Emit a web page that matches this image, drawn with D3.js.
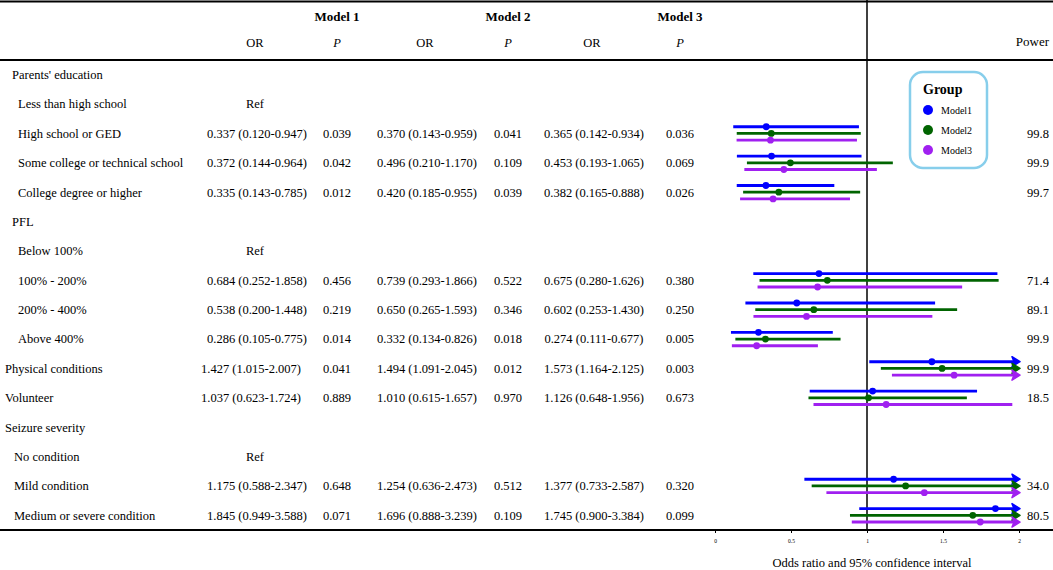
<!DOCTYPE html>
<html>
<head>
<meta charset="utf-8">
<script src="https://cdn.jsdelivr.net/npm/d3@7"></script>
<style>
  body { margin: 0; background: #fff; }
  svg { display: block; font-family: "Liberation Serif", "Times New Roman", serif; }
</style>
</head>
<body>
<div id="chart"></div>
<script>
// rows of the table
var labels = ["Parents' education", "Less than high school", "High school or GED",
  "Some college or technical school", "College degree or higher", "PFL", "Below 100%",
  "100% - 200%", "200% - 400%", "Above 400%", "Physical conditions", "Volunteer",
  "Seizure severity", "No condition", "Mild condition", "Medium or severe condition"];
// h1 = heading, s1 = sub item, h2 = heading (flush), s2 = sub item of h2
var rowType = ["h1", "s1", "s1", "s1", "s1", "h1", "s1", "s1", "s1", "s1", "h2", "h2", "h2", "s2", "s2", "s2"];
var refRows = [1, 6, 13];

var models = ["Model1", "Model2", "Model3"];
var modelTitles = ["Model 1", "Model 2", "Model 3"];
var colors = ["#0000FF", "#006400", "#A020F0"];

var m1OR = [null, null, 0.337, 0.372, 0.335, null, null, 0.684, 0.538, 0.286, 1.427, 1.037, null, null, 1.175, 1.845];
var m1Lo = [null, null, 0.120, 0.144, 0.143, null, null, 0.252, 0.200, 0.105, 1.015, 0.623, null, null, 0.588, 0.949];
var m1Hi = [null, null, 0.947, 0.964, 0.785, null, null, 1.858, 1.448, 0.775, 2.007, 1.724, null, null, 2.347, 3.588];
var m1P  = [null, null, 0.039, 0.042, 0.012, null, null, 0.456, 0.219, 0.014, 0.041, 0.889, null, null, 0.648, 0.071];

var m2OR = [null, null, 0.370, 0.496, 0.420, null, null, 0.739, 0.650, 0.332, 1.494, 1.010, null, null, 1.254, 1.696];
var m2Lo = [null, null, 0.143, 0.210, 0.185, null, null, 0.293, 0.265, 0.134, 1.091, 0.615, null, null, 0.636, 0.888];
var m2Hi = [null, null, 0.959, 1.170, 0.955, null, null, 1.866, 1.593, 0.826, 2.045, 1.657, null, null, 2.473, 3.239];
var m2P  = [null, null, 0.041, 0.109, 0.039, null, null, 0.522, 0.346, 0.018, 0.012, 0.970, null, null, 0.512, 0.109];

var m3OR = [null, null, 0.365, 0.453, 0.382, null, null, 0.675, 0.602, 0.274, 1.573, 1.126, null, null, 1.377, 1.745];
var m3Lo = [null, null, 0.142, 0.193, 0.165, null, null, 0.280, 0.253, 0.111, 1.164, 0.648, null, null, 0.733, 0.900];
var m3Hi = [null, null, 0.934, 1.065, 0.888, null, null, 1.626, 1.430, 0.677, 2.125, 1.956, null, null, 2.587, 3.384];
var m3P  = [null, null, 0.036, 0.069, 0.026, null, null, 0.380, 0.250, 0.005, 0.003, 0.673, null, null, 0.320, 0.099];

var power = [null, null, 99.8, 99.9, 99.7, null, null, 71.4, 89.1, 99.9, 99.9, 18.5, null, null, 34.0, 80.5];

var xTicks = [0, 0.5, 1, 1.5, 2];
var xTickLabels = ["0", "0.5", "1", "1.5", "2"];

// 画布
var width = 1053, height = 570;
var fs = 12.5;
var svg = d3.select("#chart").append("svg")
  .attr("width", width)
  .attr("height", height);

var modelData = [
  { or: m1OR, lo: m1Lo, hi: m1Hi, p: m1P, orX: 257, pX: 337, titleX: 337 },
  { or: m2OR, lo: m2Lo, hi: m2Hi, p: m2P, orX: 427, pX: 508, titleX: 508 },
  { or: m3OR, lo: m3Lo, hi: m3Hi, p: m3P, orX: 594, pX: 680, titleX: 680 }
];

var rows = d3.range(labels.length);
var y = d3.scaleBand().domain(rows).range([60, 530]);
var yc = function(i) { return y(i) + y.bandwidth() / 2; };
var x = d3.scaleLinear().domain([0, 2]).range([715, 1019]);
var off = d3.scalePoint().domain(models).range([-6.7, 6.7]);
var f3 = d3.format(".3f");
var f1 = d3.format(".1f");

//分组
var gRule = svg.append("g");
var gText = svg.append("g").attr("font-size", fs + "px").attr("fill", "#000");
var gPlot = svg.append("g");
var gAxis = svg.append("g");
var gLegend = svg.append("g");

// 表头
modelData.forEach(function(m, k) {
  gText.append("text")
    .attr("x", m.titleX).attr("y", 16).attr("dy", "0.35em")
    .attr("text-anchor", "middle")
    .attr("font-weight", "bold").attr("font-size", "13px")
    .text(modelTitles[k]);
  gText.append("text")
    .attr("x", m.orX - 2).attr("y", 43).attr("dy", "0.35em")
    .attr("text-anchor", "middle")
    .text("OR");
  gText.append("text")
    .attr("x", m.pX).attr("y", 43).attr("dy", "0.35em")
    .attr("text-anchor", "middle")
    .attr("font-style", "italic")
    .text("P");
});
gText.append("text")
  .attr("x", 1049).attr("y", 41).attr("dy", "0.35em")
  .attr("text-anchor", "end")
  .attr("font-size", "13px")
  .text("Power");

// 行标签
var indent = { h1: 12, s1: 18, h2: 5, s2: 14 };
gText.selectAll("text.label").data(rows).enter().append("text")
  .attr("class", "label")
  .attr("x", function(i) { return indent[rowType[i]]; })
  .attr("y", yc).attr("dy", "0.35em")
  .text(function(i) { return labels[i]; });

// Ref
gText.selectAll("text.ref").data(refRows).enter().append("text")
  .attr("class", "ref")
  .attr("x", 255).attr("y", yc).attr("dy", "0.35em")
  .attr("text-anchor", "middle")
  .text("Ref");

// 数值
modelData.forEach(function(m, k) {
  var valued = rows.filter(function(i) { return m.or[i] != null; });
  gText.selectAll("text.or" + k).data(valued).enter().append("text")
    .attr("x", function(i) { return m.orX - (k == 0 && rowType[i] == "h2" ? 6 : 0); })
    .attr("y", yc).attr("dy", "0.35em")
    .attr("text-anchor", "middle")
    .text(function(i) { return f3(m.or[i]) + " (" + f3(m.lo[i]) + "-" + f3(m.hi[i]) + ")"; });
  gText.selectAll("text.p" + k).data(valued).enter().append("text")
    .attr("x", m.pX).attr("y", yc).attr("dy", "0.35em")
    .attr("text-anchor", "middle")
    .text(function(i) { return f3(m.p[i]); });
});
var powRows = rows.filter(function(i) { return power[i] != null; });
gText.selectAll("text.pow").data(powRows).enter().append("text")
  .attr("x", 1027).attr("y", yc).attr("dy", "0.35em")
  .text(function(i) { return f1(power[i]); });

// 横线 / 竖线
gRule.append("line").attr("x1", 0).attr("x2", width).attr("y1", 1.5).attr("y2", 1.5)
  .attr("stroke", "#000").attr("stroke-width", 2);
gRule.append("line").attr("x1", 0).attr("x2", width).attr("y1", 60).attr("y2", 60)
  .attr("stroke", "#000").attr("stroke-width", 2);
gRule.append("line").attr("x1", 0).attr("x2", width).attr("y1", 530).attr("y2", 530)
  .attr("stroke", "#000").attr("stroke-width", 2);
gRule.append("line").attr("x1", x(1)).attr("x2", x(1)).attr("y1", 0).attr("y2", 530)
  .attr("stroke", "#000").attr("stroke-width", 1.5);

// 置信区间
modelData.forEach(function(m, k) {
  var valued = rows.filter(function(i) { return m.or[i] != null; });
  var color = colors[k];
  var yy = function(i) { return yc(i) + off(models[k]); };
  gPlot.selectAll("line.ci" + k).data(valued).enter().append("line")
    .attr("x1", function(i) { return x(m.lo[i]); })
    .attr("x2", function(i) { return m.hi[i] > 2 ? x(2) - 3 : x(m.hi[i]); })
    .attr("y1", yy).attr("y2", yy)
    .attr("stroke", color).attr("stroke-width", 2.8);
  // 超出范围的箭头
  gPlot.selectAll("path.arr" + k)
    .data(valued.filter(function(i) { return m.hi[i] > 2; }))
    .enter().append("path")
    .attr("d", function(i) {
      var tx = x(2) + 1, ty = yy(i);
      return "M" + (tx - 8) + "," + (ty - 5) + "L" + tx + "," + ty + "L" + (tx - 8) + "," + (ty + 5) +
        "L" + (tx - 6) + "," + ty + "Z";
    })
    .attr("fill", color)
    .attr("stroke", color).attr("stroke-width", 1.5)
    .attr("stroke-linejoin", "round");
  gPlot.selectAll("circle.pt" + k).data(valued).enter().append("circle")
    .attr("cx", function(i) { return x(m.or[i]); })
    .attr("cy", yy)
    .attr("r", 3.4)
    .attr("fill", color);
});

// 坐标轴
var axis = d3.axisBottom(x).tickValues(xTicks).tickSize(3)
  .tickFormat(function(d, i) { return xTickLabels[i]; });
gAxis.attr("transform", "translate(0,530)").call(axis);
gAxis.select(".domain").remove();
gAxis.selectAll(".tick line").attr("stroke", "#000").attr("stroke-width", 1);
gAxis.selectAll(".tick text")
  .attr("font-family", "\"Liberation Serif\", serif")
  .attr("font-size", "5.5px")
  .attr("y", 9)
  .attr("fill", "#000");
svg.append("text")
  .attr("x", x(1) + 5).attr("y", 563).attr("dy", "0.35em")
  .attr("text-anchor", "middle")
  .attr("font-size", fs + "px")
  .text("Odds ratio and 95% confidence interval");

// 图例
gLegend.append("rect")
  .attr("x", 910).attr("y", 72)
  .attr("width", 77).attr("height", 96)
  .attr("rx", 13).attr("ry", 13)
  .attr("fill", "#fff")
  .attr("stroke", "#87CEEB")
  .attr("stroke-width", 2.5);
gLegend.append("text")
  .attr("x", 923).attr("y", 89).attr("dy", "0.35em")
  .attr("font-weight", "bold").attr("font-size", "14px")
  .text("Group");
var leg = gLegend.selectAll("g.item").data(models).enter().append("g")
  .attr("transform", function(d, k) { return "translate(928," + (110 + k * 20) + ")"; });
leg.append("circle").attr("r", 5).attr("fill", function(d, k) { return colors[k]; });
leg.append("text").attr("x", 13).attr("dy", "0.35em")
  .attr("font-size", "10px")
  .text(function(d) { return d; });
</script>
</body>
</html>
